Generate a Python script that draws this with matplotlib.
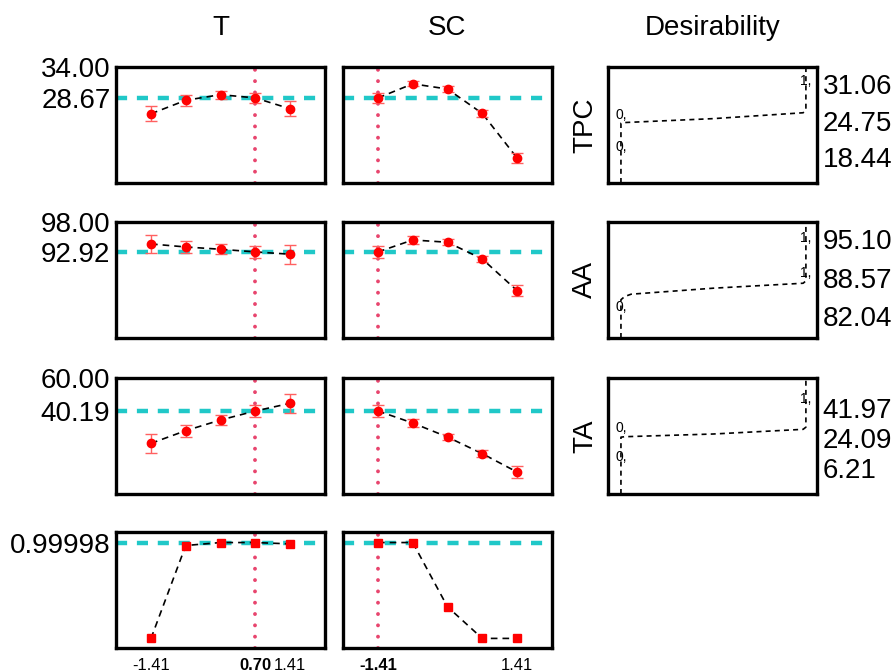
import matplotlib.pyplot as plt

plt.rcParams['font.family'] = ['Liberation Sans', 'DejaVu Sans']

# factor levels (coded) and current settings
levels = [-1.41, -0.705, 0.0, 0.705, 1.41]
t_current = 0.70
sc_current = -1.41

# TPC profile
tpc_t = [25.94, 28.26, 29.23, 28.67, 26.80]
tpc_t_err = [1.31, 0.90, 0.71, 0.85, 1.33]
tpc_sc = [28.67, 31.10, 30.20, 26.00, 18.33]
tpc_sc_err = [0.90, 0.43, 0.48, 0.54, 0.85]

# AA profile
aa_t = [94.27, 93.76, 93.37, 92.92, 92.53]
aa_t_err = [1.55, 0.98, 0.85, 0.98, 1.60]
aa_sc = [92.92, 94.95, 94.56, 91.73, 86.36]
aa_sc_err = [0.98, 0.68, 0.54, 0.56, 1.00]

# TA profile
ta_t = [20.8, 28.4, 34.8, 40.19, 44.8]
ta_t_err = [5.5, 3.5, 3.0, 3.8, 5.8]
ta_sc = [40.19, 33.0, 24.6, 14.6, 3.6]
ta_sc_err = [3.6, 2.2, 1.9, 2.2, 3.5]

# overall desirability profile
des_t = [0.0, 0.969, 1.0, 1.0, 0.986]
des_sc = [1.0, 1.0, 0.33, 0.0, 0.0]

# current predicted values and axis ranges
current = [28.67, 92.92, 40.19, 0.99998]
current_labels = ['28.67', '92.92', '40.19', '0.99998']
y_top = [34.00, 98.00, 60.00]
y_bottom = [14.0, 78.3, -9.6]

# desirability functions (desirability, response)
tpc_d = [0, 0, 0.01, 0.5, 0.985, 1.0, 1.0]
tpc_r = [14, 24.3, 24.41, 25.1, 26.11, 26.6, 34]
aa_d = [0, 0, 0.02, 0.055, 0.5, 0.985, 1.0, 1.0]
aa_r = [78.3, 84.8, 85.34, 85.74, 86.76, 87.6, 88.0, 98]
ta_d = [0, 0, 0.02, 0.5, 0.985, 1.0, 1.0]
ta_r = [-9.6, 24.5, 24.77, 26.4, 29.2, 30.5, 60]

tpc_marks = ['31.06', '24.75', '18.44']
aa_marks = ['95.10', '88.57', '82.04']
ta_marks = ['41.97', '24.09', '6.21']

tpc_notes = [(0, 25.65, '0,'), (0, 20.2, '0,'), (1, 31.6, '1,')]
aa_notes = [(0, 83.6, '0,'), (1, 95.3, '1,'), (1, 89.4, '1,')]
ta_notes = [(0, 30.0, '0,'), (0, 12.6, '0,'), (1, 47.4, '1,')]

responses = ['TPC', 'AA', 'TA']
factors = ['T', 'SC']

FW, FH = 894, 671
col_left = [116, 343, 608]
row_top = [67, 222, 378, 532]
PW, PH = 209, 116

CYAN = '#20c8c8'
PINK = '#e8456e'

fig = plt.figure(figsize=(FW / 100, FH / 100), dpi=100)


def add_panel(col, row):
    ax = fig.add_axes([col_left[col] / FW, 1 - (row_top[row] + PH) / FH, PW / FW, PH / FH])
    for s in ax.spines.values():
        s.set_linewidth(2.4)
    ax.tick_params(length=0, labelsize=20, pad=4)
    ax.set_xticks([])
    ax.set_yticks([])
    return ax


profiles = [
    [(tpc_t, tpc_t_err), (tpc_sc, tpc_sc_err)],
    [(aa_t, aa_t_err), (aa_sc, aa_sc_err)],
    [(ta_t, ta_t_err), (ta_sc, ta_sc_err)],
]
factor_current = [t_current, sc_current]
des_curves = [(tpc_d, tpc_r, tpc_marks, tpc_notes),
              (aa_d, aa_r, aa_marks, aa_notes),
              (ta_d, ta_r, ta_marks, ta_notes)]

for r in range(3):
    for c in range(2):
        vals, errs = profiles[r][c]
        ax = add_panel(c, r)
        ax.set_xlim(-2.12, 2.12)
        ax.set_ylim(y_bottom[r], y_top[r])
        ax.axvline(factor_current[c], color=PINK, lw=2.8, ls=(0, (0.01, 2.9)),
                   dash_capstyle='round', zorder=1)
        ax.axhline(current[r], color=CYAN, lw=3.2, ls=(0, (2.5, 2.2)), zorder=2)
        ax.plot(levels, vals, color='black', lw=1.2, ls=(0, (4, 3)), zorder=3)
        ax.errorbar(levels, vals, yerr=errs, fmt='none', ecolor='#ff6060',
                    elinewidth=1.0, capsize=4, capthick=1.0, zorder=4)
        ax.plot(levels, vals, 'o', color='red', ms=6, zorder=5)
        if c == 0:
            ax.set_yticks([y_top[r], current[r]], [f'{y_top[r]:.2f}', current_labels[r]])

    # desirability function panel
    d, resp, marks, notes = des_curves[r]
    ax = add_panel(2, r)
    ax.set_xlim(-0.07, 1.06)
    ax.set_ylim(y_bottom[r], y_top[r])
    ax.plot(d, resp, color='black', lw=1.2, ls=(0, (3, 2.5)))
    for nx, ny, txt in notes:
        ax.text(nx, ny, txt, fontsize=10, ha='center', va='center')
    ax.yaxis.tick_right()
    ax.set_yticks([float(m) for m in marks], marks)
    fig.text((col_left[2] - 23) / FW, 1 - (row_top[r] + PH / 2) / FH, responses[r],
             rotation=90, ha='center', va='center', fontsize=20)

# bottom row: overall desirability
des_vals = [des_t, des_sc]
for c in range(2):
    ax = add_panel(c, 3)
    ax.set_xlim(-2.12, 2.12)
    ax.set_ylim(-0.1, 1.11)
    ax.axvline(factor_current[c], color=PINK, lw=2.8, ls=(0, (0.01, 2.9)),
               dash_capstyle='round', zorder=1)
    ax.axhline(current[3], color=CYAN, lw=3.2, ls=(0, (2.5, 2.2)), zorder=2)
    ax.plot(levels, des_vals[c], color='black', lw=1.2, ls=(0, (4, 3)), zorder=3)
    ax.plot(levels, des_vals[c], 's', color='red', ms=5.5, zorder=5)
    ticks = sorted({-1.41, factor_current[c], 1.41})
    ax.set_xticks(ticks, [f'{t:.2f}' for t in ticks])
    ax.tick_params(axis='x', labelsize=12, pad=7)
    for lab, t in zip(ax.get_xticklabels(), ticks):
        if t == factor_current[c]:
            lab.set_fontweight('bold')
    if c == 0:
        ax.set_yticks([current[3]], [current_labels[3]])

# column titles
for c, name in enumerate(factors + ['Desirability']):
    fig.text((col_left[c] + PW / 2) / FW, 1 - 28 / FH, name, ha='center', va='center', fontsize=20)

fig.savefig('out.png', dpi=100)
